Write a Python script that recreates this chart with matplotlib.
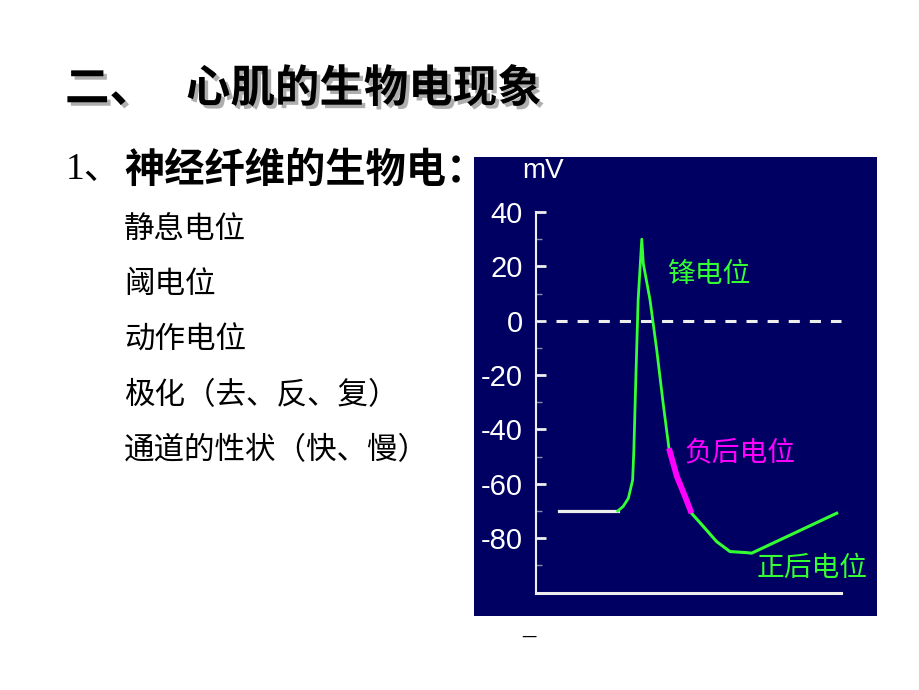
import matplotlib
matplotlib.use("Agg")
import matplotlib.pyplot as plt
import matplotlib.patheffects as pe

plt.rcParams['font.family'] = ['Noto Sans CJK SC', 'DejaVu Sans']
plt.rcParams['lines.scale_dashes'] = False

# ---- data (time in arbitrary units, potential in mV) ----
rest_t = [7.7, 26.9]
rest_v = [-70, -70]

spike_t = [26.9, 28.7, 30.4, 31.8, 32.2, 32.8, 33.6, 34.8, 35.3, 37.5, 39.7, 41.8, 43.7]
spike_v = [-70, -68.3, -65.3, -58.6, -47.5, -23, 7.6, 30, 21, 7.6, -10.8, -30.4, -46.9]

neg_t = [43.7, 46.3, 49.0, 51.1]
neg_v = [-46.9, -57.3, -64.7, -70.8]

pos_t = [51.1, 55.0, 59.3, 63.7, 69.2, 70.8, 98.7]
pos_v = [-70.8, -75.7, -81.2, -84.9, -85.3, -85.5, -70.8]

zero_t = [6.6, 100]
zero_v = [0, 0]

major_ticks = [40, 20, 0, -20, -40, -60, -80]
minor_ticks = [30, 10, -10, -30, -50, -70, -90]

bullets = ["静息电位", "阈电位", "动作电位", "极化（去、反、复）", "通道的性状（快、慢）"]

GREEN = '#33ff33'
MAGENTA = '#ff00ff'
NAVY = '#000062'
AXIS = '#eeeeee'
NARROW = ['Liberation Sans Narrow', 'DejaVu Sans Condensed', 'Liberation Sans']

fig = plt.figure(figsize=(9.2, 6.9), dpi=100)
fig.patch.set_facecolor('white')

# ---- slide text ----
shadow = [pe.withSimplePatchShadow(offset=(2.5, -2.5), shadow_rgbFace='#9a9a9a', alpha=0.8)]
fig.text(65 / 920, 1 - 89 / 690, "二、", fontsize=32, fontweight='bold',
         va='center', ha='left', path_effects=shadow)
fig.text(186 / 920, 1 - 89 / 690, "心肌的生物电现象", fontsize=32, fontweight='bold',
         va='center', ha='left', path_effects=shadow)

fig.text(66 / 920, 1 - 170 / 690, "1、", fontsize=27,
         family=['Liberation Serif', 'Noto Sans CJK SC'], va='center', ha='left')
fig.text(124 / 920, 1 - 170 / 690, "神经纤维的生物电：", fontsize=29, fontweight='bold',
         va='center', ha='left')

for i, b in enumerate(bullets):
    fig.text(124 / 920, 1 - (229 + 55.5 * i) / 690, b, fontsize=22,
             va='center', ha='left')

fig.text(529 / 920, 1 - 636 / 690, "—", fontsize=11, family='DejaVu Sans',
         va='center', ha='center', color='black')

# ---- action potential panel ----
ax = fig.add_axes([474 / 920, 1 - 616 / 690, 403 / 920, 459 / 690])
ax.set_facecolor(NAVY)
ax.set_xlim(-20.2, 111.9)
ax.set_ylim(-108.6, 60.2)

ax.plot(zero_t, zero_v, color=AXIS, lw=2.2, dashes=(8, 7.2), solid_capstyle='butt')
ax.plot(rest_t, rest_v, color=AXIS, lw=2.3)
ax.plot(spike_t, spike_v, color=GREEN, lw=2.0)
ax.plot(pos_t, pos_v, color=GREEN, lw=2.2)
ax.plot(neg_t, neg_v, color=MAGENTA, lw=4.2, solid_capstyle='butt')

for s in ['top', 'right']:
    ax.spines[s].set_visible(False)
ax.spines['left'].set_position(('data', 0))
ax.spines['left'].set_bounds(-100, 40)
ax.spines['bottom'].set_position(('data', -100))
ax.spines['bottom'].set_bounds(0, 100)
ax.spines['left'].set_color(AXIS)
ax.spines['bottom'].set_color(AXIS)
ax.spines['left'].set_linewidth(1.5)
ax.spines['bottom'].set_linewidth(2.2)

ax.set_xticks([])
ax.set_yticks(major_ticks)
ax.set_yticklabels([str(t) for t in major_ticks])
ax.set_yticks(minor_ticks, minor=True)
ax.tick_params(axis='y', which='major', direction='in', length=7.5, width=2,
               color=AXIS, labelcolor='white', labelsize=21, pad=9)
ax.tick_params(axis='y', which='minor', direction='in', length=4, width=1,
               color='#8888aa')
for lab in ax.get_yticklabels():
    lab.set_family(NARROW)

ax.text(2.5, 55, "mV", color='white', fontsize=20, ha='center', va='center',
        family=NARROW)

ax.text(56.8, 17, "锋电位", color=GREEN, fontsize=20, ha='center', va='center')
ax.text(67, -48.5, "负后电位", color=MAGENTA, fontsize=20, ha='center', va='center')
ax.text(90.6, -91, "正后电位", color=GREEN, fontsize=20, ha='center', va='center')

fig.savefig("out.png", dpi=100, facecolor='white')
